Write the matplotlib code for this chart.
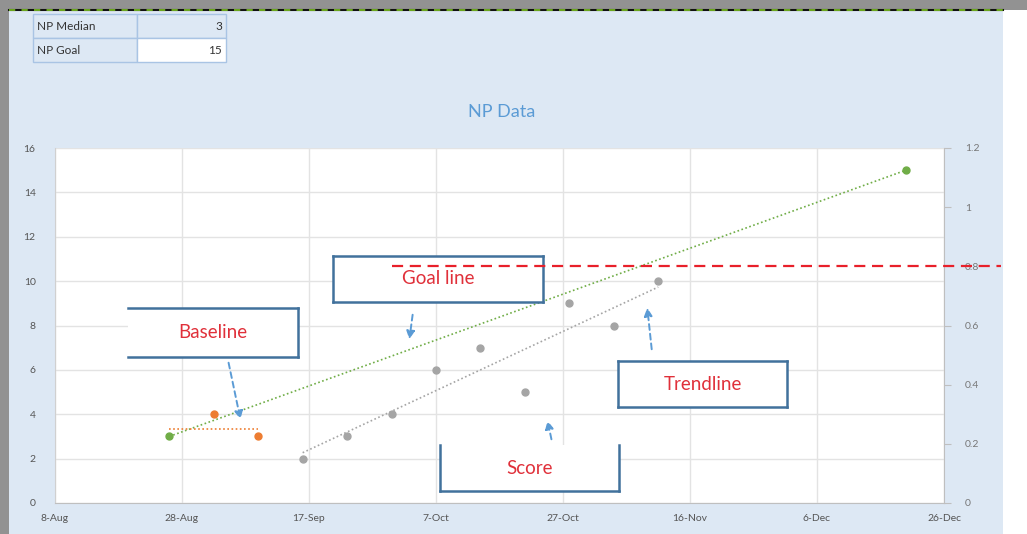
import matplotlib
matplotlib.use("Agg")
import matplotlib.pyplot as plt
import matplotlib.dates as mdates
from matplotlib.patches import Rectangle, FancyArrowPatch
from matplotlib.lines import Line2D
import numpy as np
from datetime import date

# ---- data ----
goal_dates = [date(2019, 8, 26), date(2019, 12, 20)]
goal_values = [3, 15]

baseline_dates = [date(2019, 9, 2), date(2019, 9, 9)]
baseline_values = [4, 3]
baseline_span = [date(2019, 8, 26), date(2019, 9, 9)]
baseline_mean = 3.33

score_dates = [date(2019, 9, 16), date(2019, 9, 23), date(2019, 9, 30), date(2019, 10, 7),
               date(2019, 10, 14), date(2019, 10, 21), date(2019, 10, 28), date(2019, 11, 4),
               date(2019, 11, 11)]
score_values = [2, 3, 4, 6, 7, 5, 9, 8, 10]

goal_level = 0.8
goal_level_span = [date(2019, 9, 30), date(2020, 1, 4)]

table_labels = ["NP Median", "NP Goal"]
table_values = ["3", "15"]

W, H = 1027, 534
fig = plt.figure(figsize=(W / 100, H / 100), dpi=100)
fig.patch.set_facecolor("white")


def fx(px):
    return px / W


def fy(py):
    return 1 - py / H


# frame / background
fig.add_artist(Rectangle((0, fy(10)), 1, 1 - fy(10), transform=fig.transFigure,
                         facecolor="#929292", edgecolor="none", zorder=0))
fig.add_artist(Rectangle((0, 0), fx(9), 1, transform=fig.transFigure,
                         facecolor="#929292", edgecolor="none", zorder=0))
fig.add_artist(Rectangle((fx(9), 0), fx(1003) - fx(9), fy(10), transform=fig.transFigure,
                         facecolor="#dde8f4", edgecolor="none", zorder=0))
fig.add_artist(Line2D([fx(9), fx(1003)], [fy(10), fy(10)], transform=fig.transFigure,
                      color="#111111", lw=1.5, zorder=1))
fig.add_artist(Line2D([fx(9), fx(1003)], [fy(10), fy(10)], transform=fig.transFigure,
                      color="#6aa51e", lw=1.5, ls=(0, (3, 3)), zorder=1))

# small table
rows_y = [14, 38, 62]
for i, (lab, val) in enumerate(zip(table_labels, table_values)):
    y0, y1 = rows_y[i], rows_y[i + 1]
    face = "#dde8f4" if i == 0 else "white"
    fig.add_artist(Rectangle((fx(33), fy(y1)), fx(137) - fx(33), fy(y0) - fy(y1),
                             transform=fig.transFigure, facecolor="#dde8f4",
                             edgecolor="#a9c4e4", lw=1, zorder=1))
    fig.add_artist(Rectangle((fx(137), fy(y1)), fx(226) - fx(137), fy(y0) - fy(y1),
                             transform=fig.transFigure, facecolor=face,
                             edgecolor="#a9c4e4", lw=1, zorder=1))
    fig.text(fx(37), fy((y0 + y1) / 2), lab, ha="left", va="center", fontsize=8.5,
             color="#333333", family="Lato")
    fig.text(fx(222), fy((y0 + y1) / 2), val, ha="right", va="center", fontsize=8.5,
             color="#333333", family="Lato")

fig.text(fx(502), fy(112), "NP Data", ha="center", va="center", fontsize=13,
         color="#5b9bd5", family="Lato")

# ---- axes ----
ax = fig.add_axes([fx(55), fy(503), fx(944) - fx(55), fy(148) - fy(503)])
ax.set_facecolor("white")
ax2 = ax.twinx()
ax2.set_zorder(10)
ax2.patch.set_visible(False)

ax.set_ylim(0, 16)
ax.set_yticks(range(0, 17, 2))
ax2.set_ylim(0, 1.2)
ax2.set_yticks([0, 0.2, 0.4, 0.6, 0.8, 1, 1.2])
ax2.set_yticklabels(["0", "0.2", "0.4", "0.6", "0.8", "1", "1.2"])

start = mdates.date2num(date(2019, 8, 8))
ax.set_xlim(start, start + 140)
ticks = [start + 20 * k for k in range(8)]
ax.set_xticks(ticks)
ax.xaxis.set_major_formatter(mdates.DateFormatter("%-d-%b"))

ax.grid(True, color="#e3e3e3", lw=1)
ax.set_axisbelow(True)
for a in (ax, ax2):
    for s in a.spines.values():
        s.set_visible(False)
ax.spines["left"].set_visible(True)
ax.spines["left"].set_color("#d0d0d0")
ax.spines["bottom"].set_visible(True)
ax.spines["bottom"].set_color("#bfbfbf")
ax2.spines["right"].set_visible(True)
ax2.spines["right"].set_color("#bfbfbf")

ax.tick_params(axis="y", length=0, labelsize=7.5, labelcolor="#555555", pad=14)
ax.tick_params(axis="x", length=0, labelsize=7.5, labelcolor="#555555", pad=8)
ax2.tick_params(axis="y", length=5, color="#bfbfbf", labelsize=7.5, labelcolor="#777777", pad=10)
for lab in ax.get_xticklabels() + ax.get_yticklabels():
    lab.set_family("Lato")
for lab in ax2.get_yticklabels():
    lab.set_family("Lato")

# series
ax.plot(goal_dates, goal_values, color="#70ad47", lw=1.2, ls=(0, (1, 1.5)),
        marker="o", ms=5, zorder=3)
ax.plot(baseline_span, [baseline_mean, baseline_mean], color="#ed7d31", lw=1.2,
        ls=(0, (1, 1.5)), zorder=3)
ax.plot(baseline_dates, baseline_values, color="#ed7d31", lw=0, marker="o", ms=5, zorder=3)

sx = mdates.date2num(score_dates)
coef = np.polyfit(sx, score_values, 1)
ax.plot([sx[0], sx[-1]], np.polyval(coef, [sx[0], sx[-1]]), color="#a5a5a5", lw=1.2,
        ls=(0, (1, 1.5)), zorder=3)
ax.plot(score_dates, score_values, color="#a5a5a5", lw=0, marker="o", ms=5, zorder=3)

ax2.plot(goal_level_span, [goal_level, goal_level], color="#e8202a", lw=1.6,
         ls=(0, (5, 3)), clip_on=False, zorder=5)


# ---- callouts ----
def callout(x0, y0, x1, y1, text, sides):
    fig.add_artist(Rectangle((fx(x0), fy(y1)), fx(x1) - fx(x0), fy(y0) - fy(y1),
                             transform=fig.transFigure, facecolor="white",
                             edgecolor="none", zorder=6))
    segs = {"top": ([x0, x1], [y0, y0]), "bottom": ([x0, x1], [y1, y1]),
            "left": ([x0, x0], [y0, y1]), "right": ([x1, x1], [y0, y1])}
    for s in sides:
        xs, ys = segs[s]
        fig.add_artist(Line2D([fx(v) for v in xs], [fy(v) for v in ys],
                              transform=fig.transFigure, color="#41719c", lw=1.8, zorder=7))
    fig.text(fx((x0 + x1) / 2), fy((y0 + y1) / 2), text, ha="center", va="center",
             fontsize=13.5, color="#e0303a", family="Lato", zorder=8)


callout(128, 308, 298, 357, "Baseline", ["top", "right", "bottom"])
callout(333, 256, 543, 302, "Goal line", ["top", "right", "bottom", "left"])
callout(618, 361, 787, 407, "Trendline", ["top", "right", "bottom", "left"])
callout(440, 445, 619, 491, "Score", ["left", "bottom", "right"])


def arrow(x0, y0, x1, y1):
    fig.add_artist(FancyArrowPatch((fx(x0), fy(y0)), (fx(x1), fy(y1)),
                                   transform=fig.transFigure, arrowstyle="-|>",
                                   mutation_scale=12, color="#5b9bd5", lw=1.4,
                                   ls=(0, (3, 2)), zorder=9))


arrow(228, 360, 241, 422)
arrow(413, 312, 409, 342)
arrow(552, 442, 547, 418)
arrow(652, 352, 647, 305)

fig.savefig("out.png", dpi=100, facecolor=fig.get_facecolor())
